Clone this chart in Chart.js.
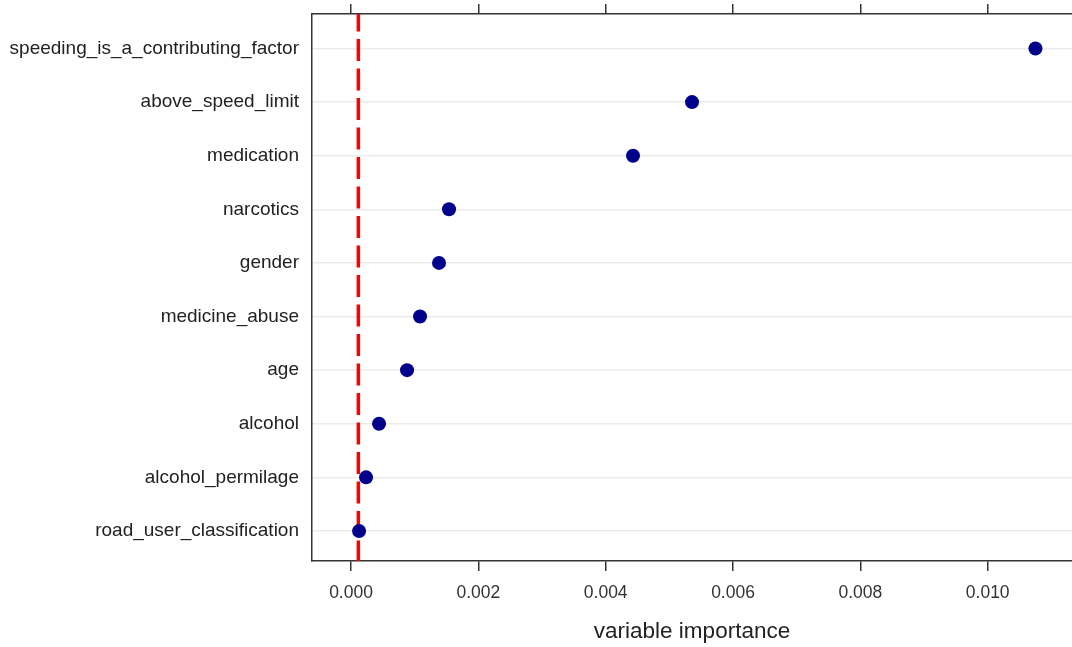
<!DOCTYPE html>
<html>
<head>
<meta charset="utf-8">
<script src="https://cdn.jsdelivr.net/npm/chart.js@4"></script>
<style>
html,body{margin:0;padding:0;background:#fff;overflow:hidden;}
canvas{display:block;}
</style>
</head>
<body>
<canvas id="c" width="1072" height="647" style="width:1072px;height:647px;"></canvas>
<script>
const categories = [
  "speeding_is_a_contributing_factor",
  "above_speed_limit",
  "medication",
  "narcotics",
  "gender",
  "medicine_abuse",
  "age",
  "alcohol",
  "alcohol_permilage",
  "road_user_classification"
];
const importance = [0.01075, 0.005356, 0.004429, 0.001539, 0.001382, 0.001084, 0.00088, 0.00044, 0.000236, 0.000126];
const xTicks = [0.000, 0.002, 0.004, 0.006, 0.008, 0.010];
const cutoff = 0.000115;
const xRange = [-0.000613, 0.011324];
const yRange = [0.356, 10.561];

const dots = categories.map((c, i) => ({x: importance[i], y: i + 1}));
const refLine = [{x: cutoff, y: yRange[0]}, {x: cutoff, y: yRange[1]}];

const FONT = "'Liberation Sans', Arial, sans-serif";
const setXTicks = s => { s.ticks = xTicks.map(v => ({value: v})); };

new Chart(document.getElementById('c'), {
  data: {
    datasets: [
      {
        type: 'line',
        data: refLine,
        borderColor: '#ff0000',
        borderWidth: 3.5,
        borderDash: [22, 7.5],
        borderDashOffset: 4.5,
        pointRadius: 0,
        fill: false,
        order: 2
      },
      {
        type: 'scatter',
        data: dots,
        backgroundColor: '#00008b',
        borderColor: '#00008b',
        pointRadius: 7,
        pointBorderWidth: 0,
        pointHoverRadius: 7,
        order: 1
      }
    ]
  },
  options: {
    responsive: false,
    animation: false,
    events: [],
    layout: {autoPadding: false, padding: {top: 4, left: 0, right: 0, bottom: 0}},
    plugins: {legend: {display: false}, tooltip: {enabled: false}},
    scales: {
      x: {
        type: 'linear',
        position: 'bottom',
        min: xRange[0],
        max: xRange[1],
        afterBuildTicks: setXTicks,
        afterFit: s => { s.height = 86; s.paddingLeft = 0; s.paddingRight = 0; },
        ticks: {
          callback: v => Number(v).toFixed(3),
          font: {family: FONT, size: 17.5},
          color: '#333',
          padding: 12,
          maxRotation: 0
        },
        grid: {drawOnChartArea: false, drawTicks: true, tickLength: 10, color: '#333', lineWidth: 1.5},
        border: {color: '#333', width: 1.5},
        title: {
          display: true,
          text: 'variable importance',
          font: {family: FONT, size: 22.5},
          color: '#222',
          padding: {top: 0, bottom: 2}
        }
      },
      x2: {
        type: 'linear',
        position: 'top',
        min: xRange[0],
        max: xRange[1],
        afterBuildTicks: setXTicks,
        afterFit: s => { s.height = 10; s.paddingLeft = 0; s.paddingRight = 0; },
        ticks: {display: false},
        grid: {drawOnChartArea: false, drawTicks: true, tickLength: 10, color: '#333', lineWidth: 1.5},
        border: {color: '#333', width: 1.5}
      },
      y: {
        type: 'linear',
        reverse: true,
        min: yRange[0],
        max: yRange[1],
        afterBuildTicks: s => { s.ticks = categories.map((c, i) => ({value: i + 1})); },
        afterFit: s => { s.width = 312; s.paddingTop = 0; s.paddingBottom = 0; },
        ticks: {
          callback: v => categories[v - 1],
          font: {family: FONT, size: 19},
          color: '#222',
          padding: 13
        },
        grid: {color: '#ebebeb', lineWidth: 1.5, drawTicks: false},
        border: {color: '#333', width: 1.5}
      }
    }
  }
});
</script>
</body>
</html>
